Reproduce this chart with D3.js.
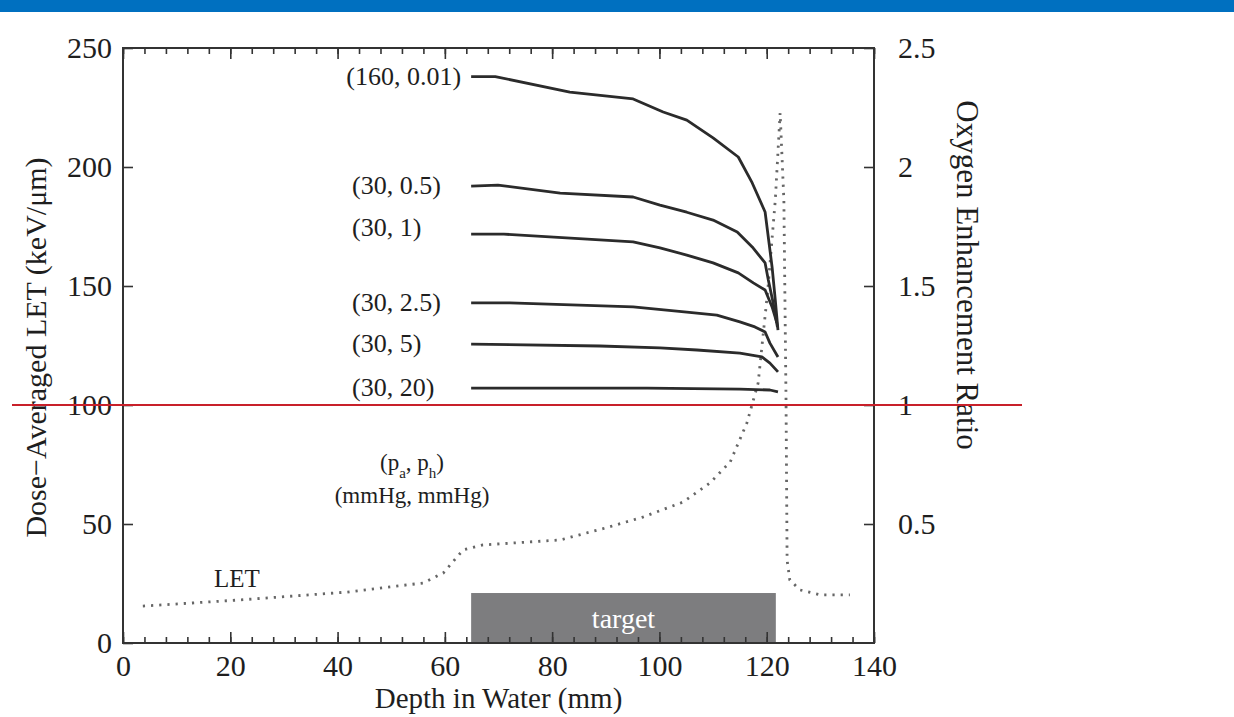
<!DOCTYPE html>
<html>
<head>
<meta charset="utf-8">
<script src="https://cdn.jsdelivr.net/npm/d3@7"></script>
<style>
  html, body { margin: 0; padding: 0; background: #fff; }
  svg { display: block; }
  text { font-family: "Liberation Serif", "Times New Roman", serif; fill: #1e1e1e; }
  .axis path { display: none; }
  .axis line { stroke: #333; stroke-width: 1.6; }
  .axis text { font-size: 30px; fill: #1e1e1e; }
</style>
</head>
<body>
<svg id="chart" width="1234" height="717"></svg>
<script>
// Depth (mm) / dose-averaged LET (keV/um) profiles for each oxygen condition (pa, ph)
const curveLabels = ["(160, 0.01)", "(30, 0.5)", "(30, 1)", "(30, 2.5)", "(30, 5)", "(30, 20)"];

const depth_160_001 = [64.9, 69.4, 83.3, 95.1, 100.7, 105.1, 110.0, 114.7, 117.3, 119.7, 121.0, 121.6, 122.1];
const let_160_001   = [238.0, 238.0, 231.5, 228.6, 223.1, 219.7, 212.2, 204.2, 193.3, 181.1, 158.0, 144.1, 131.5];

const depth_30_05 = [64.9, 69.9, 81.5, 95.1, 100.1, 105.1, 110.0, 114.5, 117.3, 119.7, 120.3, 121.2, 122.0];
const let_30_05   = [192.0, 192.4, 189.0, 187.4, 184.0, 181.0, 177.7, 172.7, 166.4, 159.7, 152.5, 142.9, 132.8];

const depth_30_1 = [64.9, 71.0, 95.1, 100.1, 105.1, 110.0, 114.7, 117.5, 119.7, 121.0, 121.9];
const let_30_1   = [171.8, 171.8, 168.5, 166.0, 163.0, 159.7, 155.5, 151.3, 148.3, 141.2, 134.5];

const depth_30_25 = [64.9, 72.1, 95.1, 105.1, 110.7, 115.0, 117.8, 119.7, 120.6, 122.1];
const let_30_25   = [142.9, 142.9, 141.2, 139.0, 137.8, 134.9, 132.8, 130.7, 126.0, 120.2];

const depth_30_5 = [64.9, 88.9, 100.1, 107.0, 115.0, 119.1, 120.6, 122.1];
const let_30_5   = [125.6, 124.8, 124.0, 123.1, 121.8, 120.2, 117.6, 113.9];

const depth_30_20 = [64.9, 97.7, 115.0, 120.6, 122.1];
const let_30_20   = [107.1, 107.1, 106.7, 106.3, 105.5];

// Physical LET depth profile (dotted)
const depthLET = [3.7, 21.8, 41.8, 55.9, 59.7, 63.4, 67.1, 81.5, 89.9, 96.9, 104.4, 109.4, 113.2, 116.3, 118.4, 120.2, 121.6, 122.5, 123.2, 123.6, 123.8, 124.3, 126.2, 130.0, 135.5];
const valueLET = [15.5, 18.1, 21.4, 25.2, 29.4, 39.1, 41.2, 43.3, 48.3, 52.9, 59.2, 67.2, 76.1, 92.4, 109.2, 148.3, 186.1, 222.7, 186.0, 102.0, 34.9, 26.5, 22.3, 20.2, 20.2];

// Target region (depth range in mm, height in LET units)
const targetRange = [64.9, 121.7];
const targetHeight = 21;

// Axis ticks
const xMajorTicks = [0, 20, 40, 60, 80, 100, 120, 140];
const xMinorTicks = d3.range(0, 141, 4);
const yLeftTicks = [0, 50, 100, 150, 200, 250];
const yRightTicks = [0.5, 1, 1.5, 2, 2.5];
const oerReference = 1;

const seriesDepths = [depth_160_001, depth_30_05, depth_30_1, depth_30_25, depth_30_5, depth_30_20];
const seriesLETs = [let_160_001, let_30_05, let_30_1, let_30_25, let_30_5, let_30_20];

const svg = d3.select("#chart");
const W = 1234, H = 717;
const plot = { left: 123, right: 874, top: 48, bottom: 643 };

const x = d3.scaleLinear().domain([0, 140]).range([plot.left, plot.right]);
const y = d3.scaleLinear().domain([0, 250]).range([plot.bottom, plot.top]);
const y2 = d3.scaleLinear().domain([0, 2.5]).range([plot.bottom, plot.top]);

// header band
svg.append("rect").attr("x", 0).attr("y", 0).attr("width", W).attr("height", 12).attr("fill", "#0070c0");

// target box
svg.append("rect")
  .attr("x", x(targetRange[0])).attr("y", y(targetHeight))
  .attr("width", x(targetRange[1]) - x(targetRange[0]))
  .attr("height", y(0) - y(targetHeight))
  .attr("fill", "#7d7d7f");
svg.append("text")
  .attr("x", (x(targetRange[0]) + x(targetRange[1])) / 2)
  .attr("y", y(targetHeight / 2) + 10)
  .attr("text-anchor", "middle")
  .style("font-size", "28px").style("fill", "#fff")
  .text("target");

// axes with inward ticks
const gx = svg.append("g").attr("class", "axis").attr("transform", `translate(0,${plot.bottom})`)
  .call(d3.axisBottom(x).tickValues(xMajorTicks).tickSizeInner(-11).tickSizeOuter(0).tickPadding(22));
gx.selectAll("text").attr("dy", "0.35em");
svg.append("g").attr("class", "axis").attr("transform", `translate(0,${plot.bottom})`)
  .call(d3.axisBottom(x).tickValues(xMinorTicks).tickSizeInner(-6).tickSizeOuter(0).tickFormat(""));
svg.append("g").attr("class", "axis").attr("transform", `translate(0,${plot.top})`)
  .call(d3.axisTop(x).tickValues(xMajorTicks).tickSizeInner(-11).tickSizeOuter(0).tickFormat(""));
svg.append("g").attr("class", "axis").attr("transform", `translate(0,${plot.top})`)
  .call(d3.axisTop(x).tickValues(xMinorTicks).tickSizeInner(-6).tickSizeOuter(0).tickFormat(""));

svg.append("g").attr("class", "axis").attr("transform", `translate(${plot.left},0)`)
  .call(d3.axisLeft(y).tickValues(yLeftTicks).tickSizeInner(-10).tickSizeOuter(0).tickPadding(11));
svg.append("g").attr("class", "axis").attr("transform", `translate(${plot.right},0)`)
  .call(d3.axisRight(y2).tickValues(yRightTicks).tickSizeInner(-10).tickSizeOuter(0).tickPadding(24)
    .tickFormat(d3.format("")));

// frame
svg.append("rect")
  .attr("x", plot.left).attr("y", plot.top)
  .attr("width", plot.right - plot.left).attr("height", plot.bottom - plot.top)
  .attr("fill", "none").attr("stroke", "#333").attr("stroke-width", 2);

// dotted LET profile
const line = d3.line().x(d => x(d[0])).y(d => y(d[1]));
svg.append("path")
  .datum(depthLET.map((d, i) => [d, valueLET[i]]))
  .attr("d", line)
  .attr("fill", "none").attr("stroke", "#666").attr("stroke-width", 2.8)
  .attr("stroke-dasharray", "2.2,6");

// OER-weighted LET curves
seriesDepths.forEach((dep, k) => {
  svg.append("path")
    .datum(dep.map((d, i) => [d, seriesLETs[k][i]]))
    .attr("d", line)
    .attr("fill", "none").attr("stroke", "#2b2b2b").attr("stroke-width", 2.8)
    .attr("stroke-linejoin", "round");
});

// curve labels
const labelPos = [
  { anchor: "end", dx: -10 },
  { anchor: "start", x: 352 },
  { anchor: "start", x: 352 },
  { anchor: "start", x: 352 },
  { anchor: "start", x: 352 },
  { anchor: "start", x: 352 }
];
curveLabels.forEach((lab, k) => {
  const p = labelPos[k];
  svg.append("text")
    .attr("x", p.x !== undefined ? p.x : x(seriesDepths[k][0]) + p.dx)
    .attr("y", y(seriesLETs[k][0]) + 8 - (k === 2 ? 6 : 0))
    .attr("text-anchor", p.anchor)
    .style("font-size", "26px")
    .text(lab);
});

// legend note for the oxygen pressures
const note = svg.append("text").attr("x", 412).attr("y", 470).attr("text-anchor", "middle").style("font-size", "23px");
note.append("tspan").text("(p");
note.append("tspan").attr("baseline-shift", "sub").style("font-size", "15px").text("a");
note.append("tspan").text(", p");
note.append("tspan").attr("baseline-shift", "sub").style("font-size", "15px").text("h");
note.append("tspan").text(")");
svg.append("text").attr("x", 412).attr("y", 503).attr("text-anchor", "middle").style("font-size", "23px")
  .text("(mmHg, mmHg)");

svg.append("text").attr("x", 237).attr("y", 587).attr("text-anchor", "middle").style("font-size", "25px").text("LET");

// axis titles
svg.append("text")
  .attr("transform", `translate(46,${(plot.top + plot.bottom) / 2 + 2}) rotate(-90)`)
  .attr("text-anchor", "middle").style("font-size", "30px")
  .text("Dose\u2212Averaged LET (keV/\u03bcm)");
svg.append("text")
  .attr("transform", `translate(957,${275}) rotate(90)`)
  .attr("text-anchor", "middle").style("font-size", "31px")
  .text("Oxygen Enhancement Ratio");
svg.append("text")
  .attr("x", (plot.left + plot.right) / 2).attr("y", 708)
  .attr("text-anchor", "middle").style("font-size", "29px")
  .text("Depth in Water (mm)");

// reference line at OER = 1
svg.append("line")
  .attr("x1", 12).attr("x2", 1022)
  .attr("y1", y2(oerReference)).attr("y2", y2(oerReference))
  .attr("stroke", "#c8202a").attr("stroke-width", 2);
</script>
</body>
</html>
